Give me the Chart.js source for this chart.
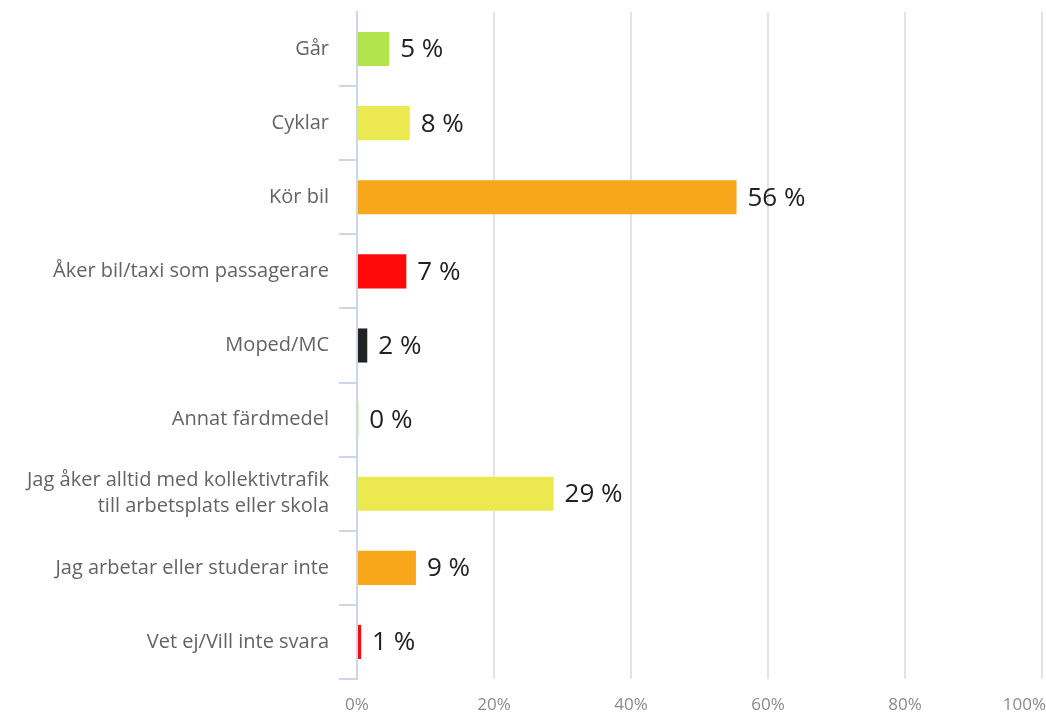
<!DOCTYPE html>
<html>
<head>
  <meta charset="UTF-8">
  <title>Färdmedel</title>
  <script src="https://cdn.jsdelivr.net/npm/chart.js"></script>
  <style>
    body {
      margin: 0;
      padding: 0;
      background-color: white;
    }
    .chart-container {
      width: 1046px;
      height: 717px;
    }
  </style>
</head>
<body>
  <div class="chart-container">
    <canvas id="travelChart"></canvas>
  </div>

  <script>
    // Data
    const categories = [
      'Går',
      'Cyklar',
      'Kör bil',
      'Åker bil/taxi som passagerare',
      'Moped/MC',
      'Annat färdmedel',
      ['Jag åker alltid med kollektivtrafik', 'till arbetsplats eller skola'],
      'Jag arbetar eller studerar inte',
      'Vet ej/Vill inte svara'
    ];
    const shares = [4.7, 7.7, 55.4, 7.2, 1.5, 0.2, 28.7, 8.6, 0.6];
    const shareLabels = ['5 %', '8 %', '56 %', '7 %', '2 %', '0 %', '29 %', '9 %', '1 %'];
    const barColors = ['#b1e44d', '#ebe94f', '#f8a61a', '#ff0a0a', '#222222',
                       '#b1e44d', '#ebe94f', '#f8a61a', '#ff0a0a'];
    const xTicks = [0, 20, 40, 60, 80, 100];

    // Draw the "5 %" labels at the end of each bar
    const valueLabels = {
      id: 'valueLabels',
      afterDatasetsDraw(chart) {
        const ctx = chart.ctx;
        const meta = chart.getDatasetMeta(0);
        ctx.save();
        ctx.font = '26px "Open Sans", sans-serif';
        ctx.fillStyle = '#222';
        ctx.textAlign = 'left';
        ctx.textBaseline = 'middle';
        meta.data.forEach((bar, i) => {
          ctx.fillText(shareLabels[i], bar.x + 11, bar.y + 1);
        });
        ctx.restore();
      }
    };

    const ctx = document.getElementById('travelChart').getContext('2d');
    new Chart(ctx, {
      type: 'bar',
      data: {
        labels: categories,
        datasets: [{
          data: shares,
          backgroundColor: barColors,
          borderWidth: 0,
          barPercentage: 0.46,
          categoryPercentage: 1
        }]
      },
      options: {
        indexAxis: 'y',
        responsive: true,
        maintainAspectRatio: false,
        animation: false,
        layout: {
          padding: { top: 12, right: 4, left: 0, bottom: 0 }
        },
        plugins: {
          legend: { display: false },
          tooltip: { enabled: false }
        },
        scales: {
          x: {
            min: 0,
            max: 100,
            afterBuildTicks: function(scale) {
              scale.ticks = xTicks.map(v => ({ value: v }));
            },
            afterFit: function(scale) {
              scale.height = 38;
              scale.paddingLeft = 0;
              scale.paddingRight = 0;
            },
            border: { display: false },
            grid: {
              color: '#e2e2e2',
              lineWidth: 2,
              drawTicks: false
            },
            ticks: {
              padding: 16,
              color: '#8a8a8a',
              font: { family: '"Open Sans", sans-serif', size: 17 },
              callback: function(value) {
                // last label sits inside the canvas, shift it left with spaces
                return value === 100 ? value + '%        ' : value + '%';
              }
            }
          },
          y: {
            afterFit: function(scale) {
              scale.width = 357;
              scale.paddingTop = 0;
              scale.paddingBottom = 0;
            },
            border: {
              color: '#cbd8e8',
              width: 2
            },
            grid: {
              drawOnChartArea: false,
              drawTicks: true,
              tickLength: 18,
              lineWidth: 2,
              color: function(context) {
                return context.index === 0 ? 'rgba(0,0,0,0)' : '#cbd8e8';
              }
            },
            ticks: {
              padding: 10,
              color: '#636363',
              font: { family: '"Open Sans", sans-serif', size: 20, lineHeight: 1.3 }
            }
          }
        }
      },
      plugins: [valueLabels]
    });
  </script>
</body>
</html>
